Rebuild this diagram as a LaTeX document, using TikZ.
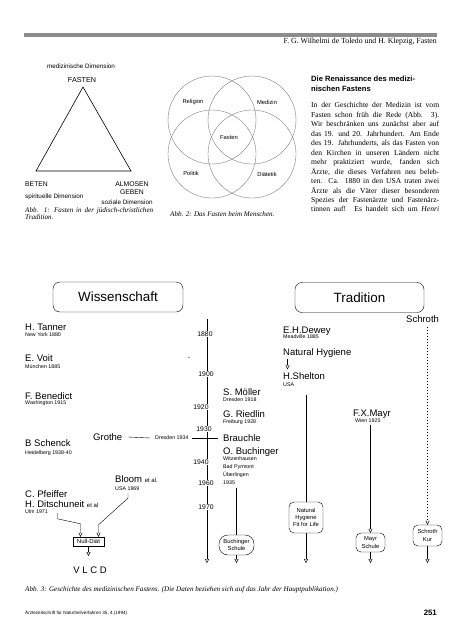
\documentclass[tikz,border=0pt]{standalone}
\usepackage{fontspec}
\setmainfont{Liberation Serif}
\setsansfont{Liberation Sans}
\usetikzlibrary{arrows.meta, positioning}

\tikzset{
	lab/.style={inner sep=0pt, font=\sffamily\fontsize{6.3}{7}\selectfont},
	venn/.style={draw=black!55, line width=0.35pt},
	person/.style={anchor=west, inner sep=0pt, font=\sffamily\fontsize{9.5}{10.5}\selectfont},
	town/.style={anchor=west, inner sep=0pt, font=\sffamily\fontsize{5.3}{6}\selectfont},
	yr/.style={fill=white, inner sep=0.8pt, font=\sffamily\fontsize{6.8}{7}\selectfont},
	school/.style={draw, rounded corners=5pt, align=center, inner sep=1pt, font=\sffamily\fontsize{5.8}{7.4}\selectfont},
	headbox/.style={draw, rounded corners=7pt, minimum height=30pt, font=\sffamily\fontsize{13.4}{15}\selectfont},
	opentip/.style={-{Triangle[open, width=4pt, length=4pt]}, line width=0.4pt},
	capt/.style={anchor=west, inner sep=0pt, align=left, font=\itshape\fontsize{7.1}{7.6}\selectfont},
}

\begin{document}
\begin{tikzpicture}[x=1pt, y=-1pt, line width=0.4pt]
	\useasboundingbox (0,0) rectangle (465,640);
	\fill[black!45] (24,33) rectangle (437,37);
	\node[anchor=east, inner sep=0pt, font=\fontsize{7.8}{8}\selectfont] (runhead) at (437,42) {F. G. Wilhelmi de Toledo und H. Klepzig, Fasten};

	% Abb. 1
	\coordinate (apex) at (83,87);
	\coordinate (bl) at (36,171);
	\coordinate (br) at (131,171);
	\draw[line width=0.6pt] (apex) -- (bl) -- (br) -- cycle;
	\node[lab] (meddim) at (81,66) {medizinische Dimension};
	\node[lab, font=\sffamily\fontsize{7.2}{8}\selectfont] (fasten) at (82,80) {FASTEN};
	\node[lab, anchor=west, font=\sffamily\fontsize{6.8}{8}\selectfont] (beten) at (25,184) {BETEN};
	\node[lab, anchor=west] (spidim) at (25,197) {spirituelle Dimension};
	\node[lab, font=\sffamily\fontsize{6.8}{8}\selectfont] (almosen) at (132,184) {ALMOSEN};
	\node[lab, font=\sffamily\fontsize{6.8}{8}\selectfont] (geben) at (132,192) {GEBEN};
	\node[lab] (sozdim) at (127,202) {soziale Dimension};
	\node[capt, anchor=north west] (capone) at (25,207) {\makebox[128pt][s]{Abb. 1: Fasten in der jüdisch-christlichen}\\Tradition.};

	% Abb. 2
	\draw[venn] (212,120) circle (44);
	\draw[venn] (252,120) circle (44);
	\draw[venn] (212,154) circle (44);
	\draw[venn] (252,154) circle (44);
	\node[lab, font=\sffamily\fontsize{5.8}{7}\selectfont] (religion) at (193,102) {Religion};
	\node[lab, font=\sffamily\fontsize{5.8}{7}\selectfont] (medizin) at (267,102) {Medizin};
	\node[lab, font=\sffamily\fontsize{5.8}{7}\selectfont] (vfasten) at (229,138) {Fasten};
	\node[lab, font=\sffamily\fontsize{5.8}{7}\selectfont] (politik) at (191,173) {Politik};
	\node[lab, font=\sffamily\fontsize{5.8}{7}\selectfont] (diaetetik) at (267,174) {Diätetik};
	\node[capt] (captwo) at (170,214) {Abb. 2: Das Fasten beim Menschen.};

	% Text
	\node[anchor=north west, inner sep=0pt, align=left, font=\sffamily\bfseries\fontsize{7.6}{10}\selectfont] (renais) at (311,76) {Die Renaissance des medizi-\\nischen Fastens};
	\node[anchor=north west, inner sep=0pt, align=left, font=\fontsize{7.6}{9.45}\selectfont] (body) at (311,102.5) {%
		\makebox[128pt][s]{In der Geschichte der Medizin ist vom}\\
		\makebox[128pt][s]{Fasten schon früh die Rede (Abb. 3).}\\
		\makebox[128pt][s]{Wir beschränken uns zunächst aber auf}\\
		\makebox[128pt][s]{das 19. und 20. Jahrhundert. Am Ende}\\
		\makebox[128pt][s]{des 19. Jahrhunderts, als das Fasten von}\\
		\makebox[128pt][s]{den Kirchen in unseren Ländern nicht}\\
		\makebox[128pt][s]{mehr praktiziert wurde, fanden sich}\\
		\makebox[128pt][s]{Ärzte, die dieses Verfahren neu beleb-}\\
		\makebox[128pt][s]{ten. Ca. 1880 in den USA traten zwei}\\
		\makebox[128pt][s]{Ärzte als die Väter dieser besonderen}\\
		\makebox[128pt][s]{Spezies der Fastenärzte und Fastenärz-}\\
		\makebox[128pt][s]{tinnen auf! Es handelt sich um \textit{Henri}}};

	% Abb. 3
	\node[headbox, minimum width=130pt] (wiss) at (118,297) {Wissenschaft};
	\node[headbox, minimum width=129pt] (trad) at (359.5,297.5) {Tradition};

	\coordinate (tltop) at (207,319);
	\coordinate (tlend) at (207,563);
	\draw[opentip] (tltop) -- (tlend);
	\node[yr] (y1880) at (205,334) {1880};
	\node[yr] (ydash) at (189,358) {-};
	\node[yr] (y1900) at (206,374) {1900};
	\node[yr] (y1920) at (201,407) {1920};
	\node[yr] (y1930) at (204,429) {1930};
	\node[yr] (y1940) at (201,462) {1940};
	\node[yr] (y1960) at (206,483) {1960};
	\node[yr] (y1970) at (206,507) {1970};

	\node[person] (tanner) at (25,327) {H. Tanner};
	\node[town] (newyork) at (25,335) {New York 1880};
	\node[person] (voit) at (25,358) {E. Voit};
	\node[town] (muenchen) at (25,367) {München 1885};
	\node[person] (benedict) at (25,396) {F. Benedict};
	\node[town] (washington) at (25,403) {Washington 1915};
	\node[person] (schenck) at (25,443) {B Schenck};
	\node[town] (heidelberg) at (25,453) {Heidelberg 1938-40};
	\node[person] (pfeiffer) at (25,494) {C. Pfeiffer};
	\node[person] (ditsch) at (25,504) {H. Ditschuneit {\fontsize{6}{7}\selectfont et al}};
	\node[town] (ulm) at (25,512) {Ulm 1971};
	\node[person] (bloom) at (115,479) {Bloom {\fontsize{6}{7}\selectfont et al.}};
	\node[town] (usabloom) at (115,489) {USA 1969};

	\node[person] (grothe) at (93,437) {Grothe};
	\node[town] (dresdengr) at (155,438) {Dresden 1934};

	\node[person] (moeller) at (223,392.5) {S. Möller};
	\node[town] (dresdenmo) at (223,400) {Dresden 1918};
	\node[person] (riedlin) at (223,414) {G. Riedlin};
	\node[town] (freiburg) at (223,422) {Freiburg 1928};
	\node[person] (brauchle) at (223,438) {Brauchle};
	\node[person] (buchinger) at (223,452) {O. Buchinger};
	\node[town] (witzen) at (223,459) {Witzenhausen};
	\node[town] (pyrmont) at (223,467) {Bad Pyrmont};
	\node[town] (ueberl) at (223,475) {Überlingen};
	\node[town] (y1935) at (223,483) {1935};

	\node[person] (dewey) at (283,331) {E.H.Dewey};
	\node[town] (meadville) at (283,337) {Meadville 1885};
	\node[person] (nathyg) at (283,353) {Natural Hygiene};
	\node[person] (shelton) at (283,376) {H.Shelton};
	\node[town] (usashelton) at (283,385) {USA};
	\node[person] (mayr) at (353,414) {F.X.Mayr};
	\node[town] (wien) at (355,421) {Wien 1925};
	\node[person] (schroth) at (406,319) {Schroth};

	\draw ([xshift=6pt]grothe.east) -- ([xshift=-5pt]dresdengr.west);
	\draw ([xshift=3pt]dresdengr.east) -- ([xshift=-5pt]brauchle.west);
	\draw[opentip] ([xshift=4.5pt,yshift=-1pt]nathyg.south west) -- ([xshift=4.5pt,yshift=3pt]shelton.north west);

	\node[school, rounded corners=9pt, minimum width=35pt, minimum height=20pt] (buchschule) at (236.5,545) {Buchinger\\Schule};
	\node[school, minimum width=34pt, minimum height=31pt] (nhfit) at (306,517.5) {Natural\\Hygiene\\Fit for Life};
	\node[school, minimum width=29pt, minimum height=19pt] (mayrschule) at (370.5,542.5) {Mayr\\Schule};
	\node[school, minimum width=29pt, minimum height=21pt] (schrothkur) at (427.5,535.5) {Schroth\\Kur};
	\node[draw, inner sep=0pt, minimum width=31pt, minimum height=9pt, font=\sffamily\fontsize{6}{7}\selectfont] (nulldiat) at (88.5,541.5) {Null-Diät};
	\node[inner sep=0pt, font=\sffamily\fontsize{9.5}{10}\selectfont] (vlcd) at (90,570) {V L C D};

	\coordinate (buchend) at (236.5,563);
	\coordinate (nhend) at (306,563);
	\coordinate (mayrend) at (370.5,563);
	\coordinate (schrothend) at (427.5,563);
	\coordinate (ndend) at (88.5,556);

	\draw ([yshift=-3pt]y1935.south -| buchschule.north) -- (buchschule.north);
	\draw[opentip] (buchschule.south) -- (buchend);
	\draw ([yshift=-8pt]usashelton.south -| nhfit.north) -- (nhfit.north);
	\draw[opentip] (nhfit.south) -- (nhend);
	\draw[opentip] ([yshift=-2pt]wien.south -| mayrschule.north) -- (mayrschule.north);
	\draw[opentip] (mayrschule.south) -- (mayrend);
	\draw[opentip, dash pattern=on 0.6pt off 2.4pt] ([yshift=-4pt]schroth.south -| schrothkur.north) -- (schrothkur.north);
	\draw[opentip] (schrothkur.south) -- (schrothend);
	\draw[opentip] ([xshift=13pt,yshift=-2pt]usabloom.south west) -- ++(0,5) -- ([xshift=10pt,yshift=12pt]nulldiat.north) -- ([xshift=10pt]nulldiat.north);
	\draw[opentip] ([xshift=-31pt,yshift=24pt]nulldiat.north) -- ++(0,6) -- ([xshift=-8pt,yshift=13pt]nulldiat.north) -- ([xshift=-8pt]nulldiat.north);
	\draw[opentip] (nulldiat.south) -- (ndend);

	\node[capt] (capthree) at (25,590) {Abb. 3: Geschichte des medizinischen Fastens. (Die Daten beziehen sich auf das Jahr der Hauptpublikation.)};
	\node[anchor=west, inner sep=0pt, font=\sffamily\fontsize{4.6}{5}\selectfont] (journal) at (25,613) {Ärztezeitschrift für Naturheilverfahren 35, 4 (1994)};
	\node[anchor=east, inner sep=0pt, font=\sffamily\bfseries\fontsize{7.8}{8}\selectfont] (pagenum) at (437,613) {251};
\end{tikzpicture}
\end{document}
